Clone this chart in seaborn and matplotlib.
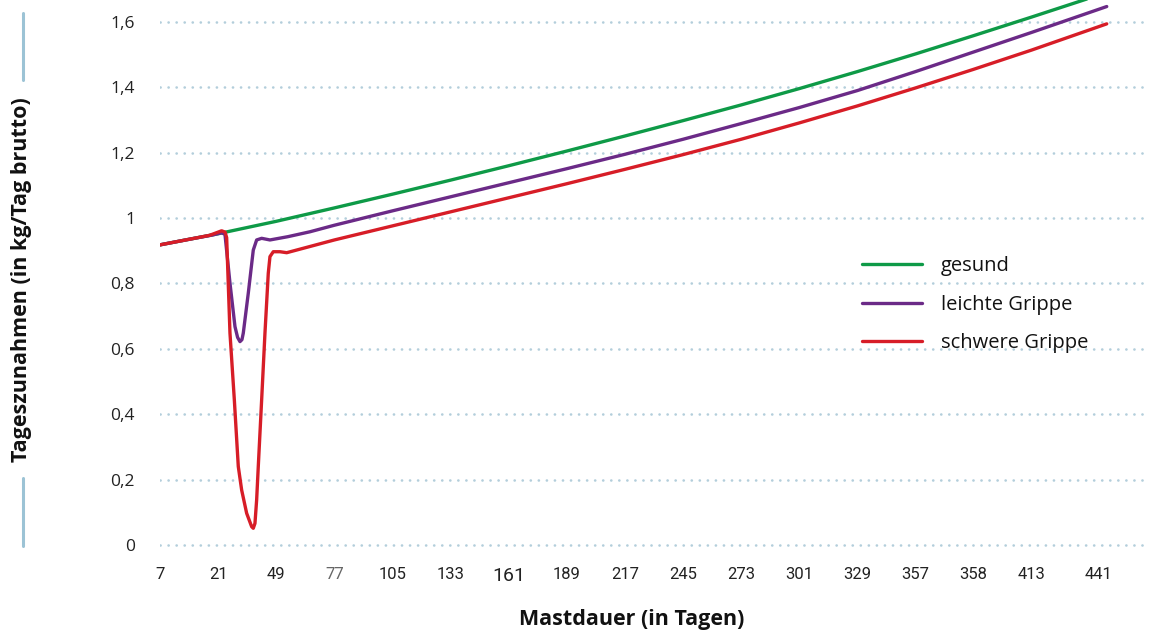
import numpy as np
import pandas as pd
import seaborn as sns
import matplotlib.pyplot as plt
from matplotlib.lines import Line2D

# x axis: tick labels as printed (equally spaced slots, the last one slightly wider)
tick_labels = ['7', '21', '49', '77', '105', '133', '161', '189', '217', '245',
               '273', '301', '329', '357', '358', '413', '441']
tick_slots = [0, 1, 2, 3, 4, 5, 6, 7, 8, 9, 10, 11, 12, 13, 14, 15, 16.14]

# gesund
green_x = [0, 1, 2, 3, 4, 5, 6, 7, 8, 9, 10, 11, 12, 13, 14, 15, 16.29]
green_y = [0.918, 0.952, 0.99, 1.031, 1.073, 1.116, 1.16, 1.205, 1.251, 1.298,
           1.346, 1.396, 1.448, 1.502, 1.558, 1.615, 1.69]

# leichte Grippe
purple_x = [0, 0.5, 0.9, 1.06, 1.118, 1.204, 1.29, 1.335, 1.376, 1.41, 1.433,
            1.519, 1.605, 1.663, 1.749, 1.892, 2.2, 2.58, 3, 4, 5, 6, 7, 8, 9,
            10, 11, 12, 13, 14, 15, 16.29]
purple_y = [0.918, 0.935, 0.948, 0.955, 0.95, 0.801, 0.668, 0.635, 0.622, 0.628,
            0.648, 0.770, 0.902, 0.933, 0.938, 0.933, 0.943, 0.958, 0.978, 1.022,
            1.065, 1.108, 1.151, 1.195, 1.241, 1.289, 1.338, 1.39, 1.448, 1.508,
            1.568, 1.647]

# schwere Grippe
red_x = [0, 0.5, 0.85, 0.97, 1.06, 1.12, 1.147, 1.204, 1.279, 1.347, 1.405,
         1.491, 1.577, 1.605, 1.634, 1.663, 1.691, 1.749, 1.806, 1.863, 1.892,
         1.949, 2.064, 2.18, 2.58, 3, 4, 5, 6, 7, 8, 9, 10, 11, 12, 13, 14, 15,
         16.29]
red_y = [0.918, 0.935, 0.947, 0.955, 0.961, 0.957, 0.94, 0.648, 0.444, 0.240,
         0.168, 0.097, 0.056, 0.051, 0.066, 0.138, 0.240, 0.444, 0.648, 0.831,
         0.882, 0.897, 0.897, 0.894, 0.913, 0.933, 0.976, 1.019, 1.062, 1.105,
         1.149, 1.194, 1.241, 1.291, 1.343, 1.398, 1.455, 1.514, 1.594]

y_ticks = [0, 0.2, 0.4, 0.6, 0.8, 1.0, 1.2, 1.4, 1.6]
y_tick_labels = ['0', '0,2', '0,4', '0,6', '0,8', '1', '1,2', '1,4', '1,6']

series = [('gesund', green_x, green_y, '#0e9a47'),
          ('leichte Grippe', purple_x, purple_y, '#6b2a87'),
          ('schwere Grippe', red_x, red_y, '#d71d27')]

sns.set_style('white')
plt.rcParams['font.family'] = ['Open Sans', 'DejaVu Sans']

fig = plt.figure(figsize=(11.57, 6.31), dpi=100)
ax = fig.add_axes([160 / 1157, 1 - 551.5 / 631, 988 / 1157, 551.5 / 631])

# dotted grid
for yv in y_ticks:
    ax.axhline(yv, color='#b3cedb', lw=1.9, linestyle=(0, (0.05, 3.0)),
               dash_capstyle='round', zorder=0)

handles = []
for name, xs, ys, col in series:
    df = pd.DataFrame({'x': xs, 'y': ys})
    sns.lineplot(data=df, x='x', y='y', ax=ax, color=col, lw=2.4, sort=False,
                 estimator=None, solid_joinstyle='round', solid_capstyle='round')
    handles.append(Line2D([], [], color=col, lw=2.4))

ax.set_xlim(0, 17.0)
ax.set_ylim(-0.02, 1.667)
ax.set_xlabel('')
ax.set_ylabel('')
sns.despine(ax=ax, left=True, bottom=True)
ax.tick_params(length=0)

ax.set_yticks(y_ticks)
ax.set_yticklabels(y_tick_labels, fontsize=12.5, color='#222222')
ax.tick_params(axis='y', pad=18)

ax.set_xticks(tick_slots)
ax.set_xticklabels(tick_labels, fontsize=12, color='#222222', family=['Roboto', 'DejaVu Sans'])
ax.tick_params(axis='x', pad=11)
for lab in ax.get_xticklabels():
    if lab.get_text() == '161':
        lab.set_fontsize(14)
    if lab.get_text() == '77':
        lab.set_color('#666666')

ax.legend(handles, [s[0] for s in series], loc='upper left',
          bbox_to_anchor=(0.7105, 0.535), frameon=False, fontsize=14.5,
          handlelength=3.0, handletextpad=0.9, labelspacing=0.9,
          borderpad=0, borderaxespad=0, labelcolor='#111111')

fig.text(632 / 1157, 1 - 619 / 631, 'Mastdauer (in Tagen)', ha='center', va='center',
         fontsize=15.5, fontweight='bold', color='#111111')
fig.text(22 / 1157, 1 - 280 / 631, 'Tageszunahmen (in kg/Tag brutto)', ha='center',
         va='center', rotation=90, fontsize=15.5, fontweight='bold', color='#111111')

# light blue bars around the y-axis title
fig.add_artist(Line2D([23 / 1157, 23 / 1157], [1 - 13 / 631, 1 - 80 / 631],
                      color='#9cc3d5', lw=2.2))
fig.add_artist(Line2D([23 / 1157, 23 / 1157], [1 - 478 / 631, 1 - 546 / 631],
                      color='#9cc3d5', lw=2.2))

fig.savefig('out.png', dpi=100)
